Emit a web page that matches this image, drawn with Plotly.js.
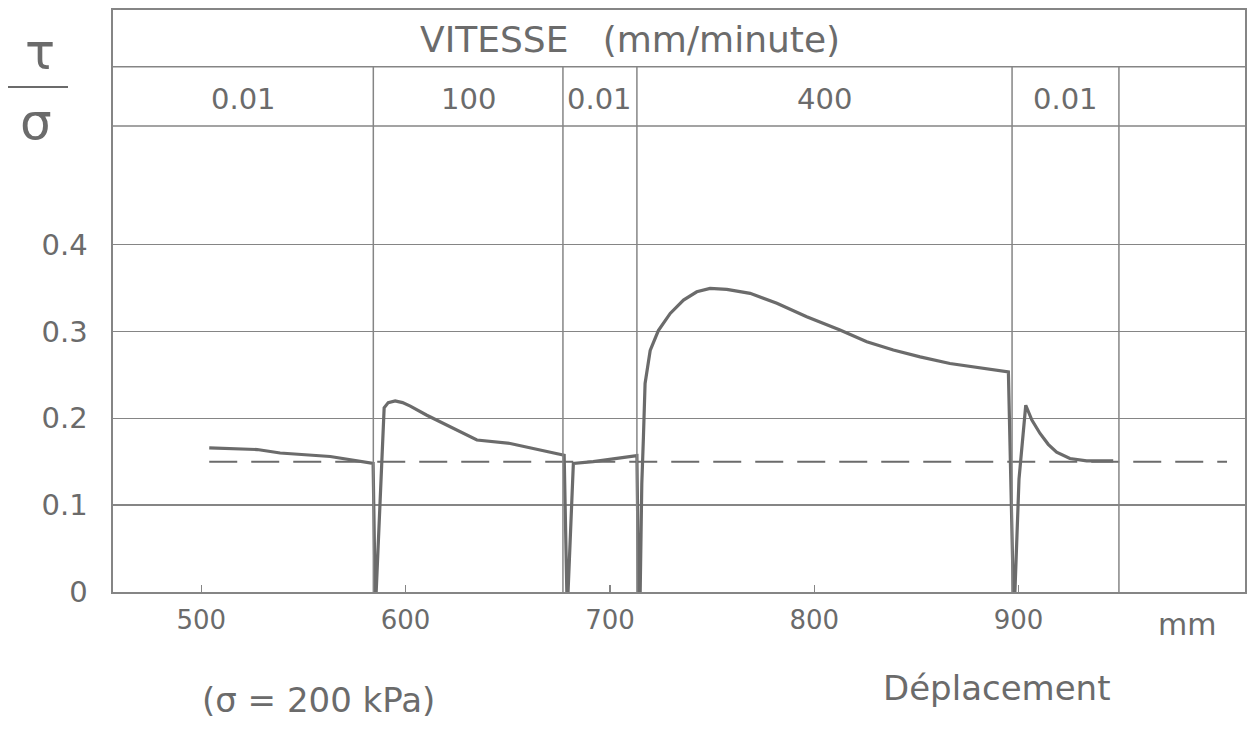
<!DOCTYPE html>
<html>
<head>
<meta charset="utf-8">
<script src="https://cdn.plot.ly/plotly-3.0.1.min.js"></script>
<style>html,body{margin:0;padding:0;background:#fff;}#chart{width:1252px;height:730px;}</style>
</head>
<body>
<div id="chart"></div>
<script>
// ---- data ----
const displacement = [503.9, 527.4, 538.6, 563.1, 584.1, 585.1, 585.6, 589.5, 591.5, 594.9, 598.5, 602.3, 610.4, 618.5, 626.7, 634.9, 651.2, 664.2, 677.6, 678.9, 679.5, 682.1, 691.8, 713.2, 714.0, 714.8, 715.6, 716.4, 717.2, 719.7, 723.7, 729.5, 736.0, 742.5, 749.0, 757.2, 768.6, 781.7, 796.3, 812.6, 825.7, 838.7, 851.8, 866.4, 882.7, 895.0, 897.4, 898.2, 900.2, 903.5, 906.5, 910.5, 914.5, 918.6, 925.1, 933.3, 946.3];
const tauSigma     = [0.166, 0.164, 0.160, 0.156, 0.148, 0.0, 0.0, 0.212, 0.218, 0.220, 0.218, 0.214, 0.2035, 0.194, 0.184, 0.175, 0.171, 0.164, 0.1575, 0.0, 0.0, 0.148, 0.150, 0.157, 0.0, 0.0, 0.125, 0.179, 0.240, 0.278, 0.301, 0.3207, 0.336, 0.3456, 0.3495, 0.3484, 0.3438, 0.3323, 0.3168, 0.3015, 0.288, 0.2785, 0.2707, 0.2631, 0.2574, 0.2535, 0.0, 0.0, 0.130, 0.215, 0.198, 0.1825, 0.170, 0.161, 0.1537, 0.151, 0.151];
const refDisp  = [503.9, 1002];
const refRatio = [0.15, 0.15];
const speedLabels = ["0.01", "100", "0.01", "400", "0.01"];
const speedBounds = [456.8, 584.2, 677.0, 713.2, 896.8, 949.1, 1010.8];
const xTicks = [500, 600, 700, 800, 900];
const yTicks = [0, 0.1, 0.2, 0.3, 0.4];
const tableRows = [0.5365, 0.6048];
const yTop = 0.670;

// ---- styling ----
const ink = '#6b6b6b';
const gridInk = '#858585';
const fam = '"DejaVu Sans", "Open Sans", sans-serif';
const W = 1252, H = 730, L = 113, R = 7, T = 10, B = 138;
const pw = W - L - R, ph = H - T - B;
const px2paperX = p => (p - L) / pw;
const px2paperY = p => (H - B - p) / ph;

const traces = [
  {x: refDisp, y: refRatio, mode: 'lines', line: {color: ink, width: 2, dash: '28px,14px'}, hoverinfo: 'skip', showlegend: false},
  {x: displacement, y: tauSigma, mode: 'lines', line: {color: ink, width: 3.2}, showlegend: false}
];

const shapes = [];
tableRows.forEach(v => shapes.push({type: 'line', xref: 'paper', x0: 0, x1: 1, yref: 'y', y0: v, y1: v, line: {color: gridInk, width: 1.5}}));
speedBounds.slice(1, -1).forEach(b => shapes.push({type: 'line', xref: 'x', x0: b, x1: b, yref: 'y', y0: 0, y1: tableRows[1], line: {color: gridInk, width: 1.5}}));
// fraction bar of the y label
shapes.push({type: 'line', xref: 'paper', yref: 'paper', x0: px2paperX(8), x1: px2paperX(68), y0: px2paperY(87), y1: px2paperY(87), line: {color: ink, width: 2.2}});

const annotations = [];
const ann = (o) => annotations.push(Object.assign({showarrow: false, xanchor: 'center', yanchor: 'middle'}, o));
speedLabels.forEach((s, i) => ann({
  x: (speedBounds[i] + speedBounds[i + 1]) / 2, y: 0.568, xref: 'x', yref: 'y',
  text: s, font: {family: fam, size: 29, color: ink}
}));
ann({x: 710, y: 0.636, xref: 'x', yref: 'y', text: 'VITESSE   (mm/minute)', font: {family: fam, size: 36, color: ink}});
ann({x: px2paperX(1187), y: px2paperY(624), xref: 'paper', yref: 'paper', text: 'mm', font: {family: fam, size: 30, color: ink}});
ann({x: px2paperX(318), y: px2paperY(700), xref: 'paper', yref: 'paper', text: '(σ = 200 kPa)', font: {family: fam, size: 34, color: ink}});
ann({x: px2paperX(997), y: px2paperY(688), xref: 'paper', yref: 'paper', text: 'Déplacement', font: {family: fam, size: 34, color: ink}});
ann({x: px2paperX(40), y: px2paperY(52), xref: 'paper', yref: 'paper', text: 'τ', font: {family: fam, size: 50, color: ink}});
ann({x: px2paperX(36), y: px2paperY(122), xref: 'paper', yref: 'paper', text: 'σ', font: {family: fam, size: 50, color: ink}});

const layout = {
  width: W, height: H,
  margin: {l: L, r: R, t: T, b: B, pad: 0},
  paper_bgcolor: '#ffffff', plot_bgcolor: '#ffffff',
  font: {family: fam, color: ink},
  showlegend: false,
  xaxis: {
    range: [speedBounds[0], speedBounds[speedBounds.length - 1]],
    tickvals: xTicks, ticks: 'inside', ticklen: 7, tickwidth: 1.5, tickcolor: gridInk,
    showgrid: false, zeroline: false, showline: true, mirror: true, linecolor: gridInk, linewidth: 1.6,
    tickfont: {family: fam, size: 26, color: ink}, ticklabelstandoff: 4
  },
  yaxis: {
    range: [0, yTop],
    tickvals: yTicks, ticktext: yTicks.map(v => v === 0 ? '0' : v.toFixed(1)),
    ticks: '', showgrid: true, gridcolor: gridInk, gridwidth: 1.5,
    zeroline: false, showline: true, mirror: true, linecolor: gridInk, linewidth: 1.6,
    tickfont: {family: fam, size: 29, color: ink}, ticklabelstandoff: 18
  },
  shapes: shapes,
  annotations: annotations
};

Plotly.newPlot('chart', traces, layout, {staticPlot: true, displayModeBar: false});
</script>
</body>
</html>
